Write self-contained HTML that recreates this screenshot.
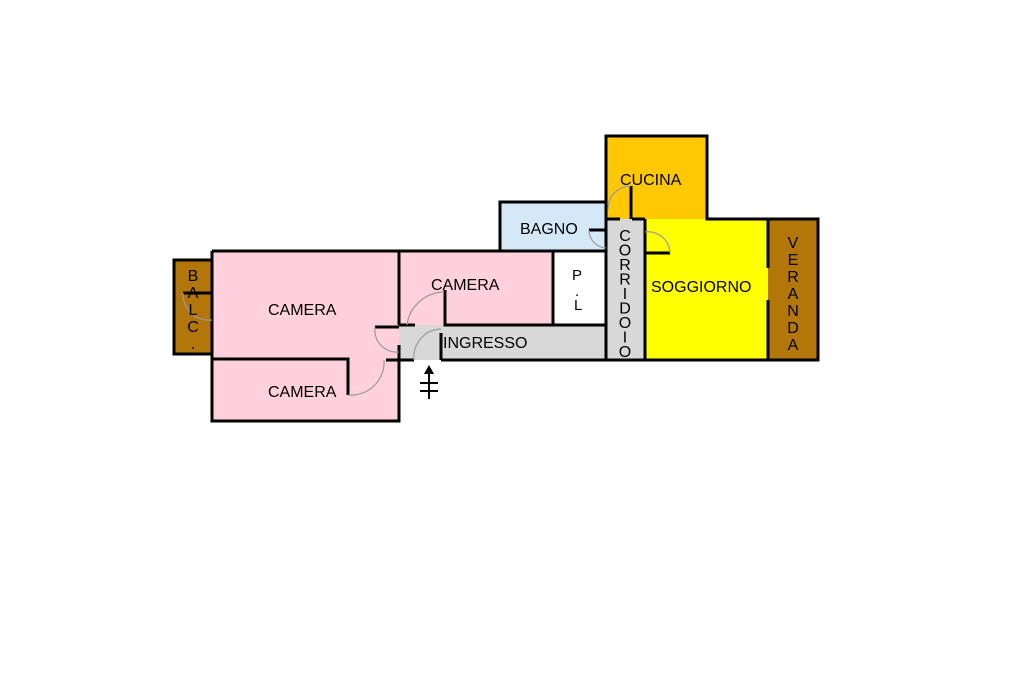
<!DOCTYPE html>
<html><head><meta charset="utf-8"><style>
html,body{margin:0;padding:0;background:#fff;width:1024px;height:682px;overflow:hidden}
svg text{font-family:"Liberation Sans",Arial,sans-serif;font-size:16px;fill:#000}
</style></head><body>
<svg width="1024" height="682" viewBox="0 0 1024 682" xmlns="http://www.w3.org/2000/svg">
<rect x="174" y="260" width="38" height="94" fill="#B27708"/>
<rect x="212" y="251" width="187" height="170" fill="#FFD1DC"/>
<rect x="399" y="251" width="154" height="74" fill="#FFD1DC"/>
<rect x="553" y="251" width="53" height="74" fill="#fff"/>
<rect x="399" y="325" width="207" height="35" fill="#D8D8D8"/>
<rect x="500" y="202" width="106" height="49" fill="#D5E8F8"/>
<rect x="606" y="136" width="101" height="83" fill="#FFC800"/>
<rect x="606" y="219" width="39" height="141" fill="#D8D8D8"/>
<rect x="645" y="219" width="123" height="141" fill="#FFFF00"/>
<rect x="768" y="219" width="50" height="141" fill="#B27708"/>
<g stroke="#000" stroke-width="3" fill="none">
<rect x="174" y="260" width="38" height="94"/>
<path d="M212 251H606"/>
<path d="M212 251V421H399V360"/>
<path d="M212 359H348V395"/>
<path d="M399 251V325M399 345V360"/>
<path d="M386 360H414M441 360H606M441 333V360"/>
<path d="M445 290V325H606M553 251V325M606 251V325"/>
<path d="M500 251V202H606V136H707V219H818V360H606"/>
<path d="M606 219V360M645 219V360M768 219V268M768 300V360"/>
<path d="M606 200V251M606 219H620M632 219H645"/>
<path d="M399 325H415"/>
<path d="M183 293H212"/>
<path d="M375 327H399"/>
<path d="M589 230H606"/>
<path d="M645 253H670"/>
<path d="M631 186V219"/>
</g>
<g stroke="#999" stroke-width="1.2" fill="none">
<path d="M444 292A38 38 0 0 0 407 325"/>
<path d="M441 329A28 28 0 0 0 414 360"/>
<path d="M375 327A22 22 0 0 0 399 352"/>
<path d="M348 395A33 33 0 0 0 384 360"/>
<path d="M183 293A26 26 0 0 0 212 320"/>
<path d="M589 230A18 18 0 0 0 606 248"/>
<path d="M645 232A22 22 0 0 1 670 253"/>
<path d="M631 186A23 23 0 0 0 608 209"/>
</g>
<g stroke="#000" stroke-width="2">
<path d="M429 372V399M420 383H438M420 391H438"/>
</g>
<polygon points="429,365 424,374 434,374" fill="#000"/>
<text x="268" y="315">CAMERA</text>
<text x="268" y="397">CAMERA</text>
<text x="431" y="290">CAMERA</text>
<text x="443" y="348">INGRESSO</text>
<text x="520" y="234">BAGNO</text>
<text x="620" y="185">CUCINA</text>
<text x="651" y="292">SOGGIORNO</text>
<text x="572" y="280" style="font-size:15px">P</text>
<text x="574" y="310" style="font-size:15px">L</text>
<text x="575" y="296" style="font-size:15px">.</text>
<g style="font-size:15px" text-anchor="middle">
<text x="625" y="241">C</text><text x="625" y="255.5">O</text><text x="625" y="270">R</text><text x="625" y="284.5">R</text><text x="625" y="299">I</text><text x="625" y="313.5">D</text><text x="625" y="328">O</text><text x="625" y="342.5">I</text><text x="625" y="357">O</text>
<text x="193" y="281">B</text><text x="193" y="298">A</text><text x="193" y="315">L</text><text x="193" y="332">C</text><text x="193" y="349">.</text>
</g>
<g style="font-size:16px" text-anchor="middle">
<text x="793" y="248">V</text><text x="793" y="265">E</text><text x="793" y="282">R</text><text x="793" y="299">A</text><text x="793" y="316">N</text><text x="793" y="333">D</text><text x="793" y="350">A</text>
</g>
</svg>
</body></html>
